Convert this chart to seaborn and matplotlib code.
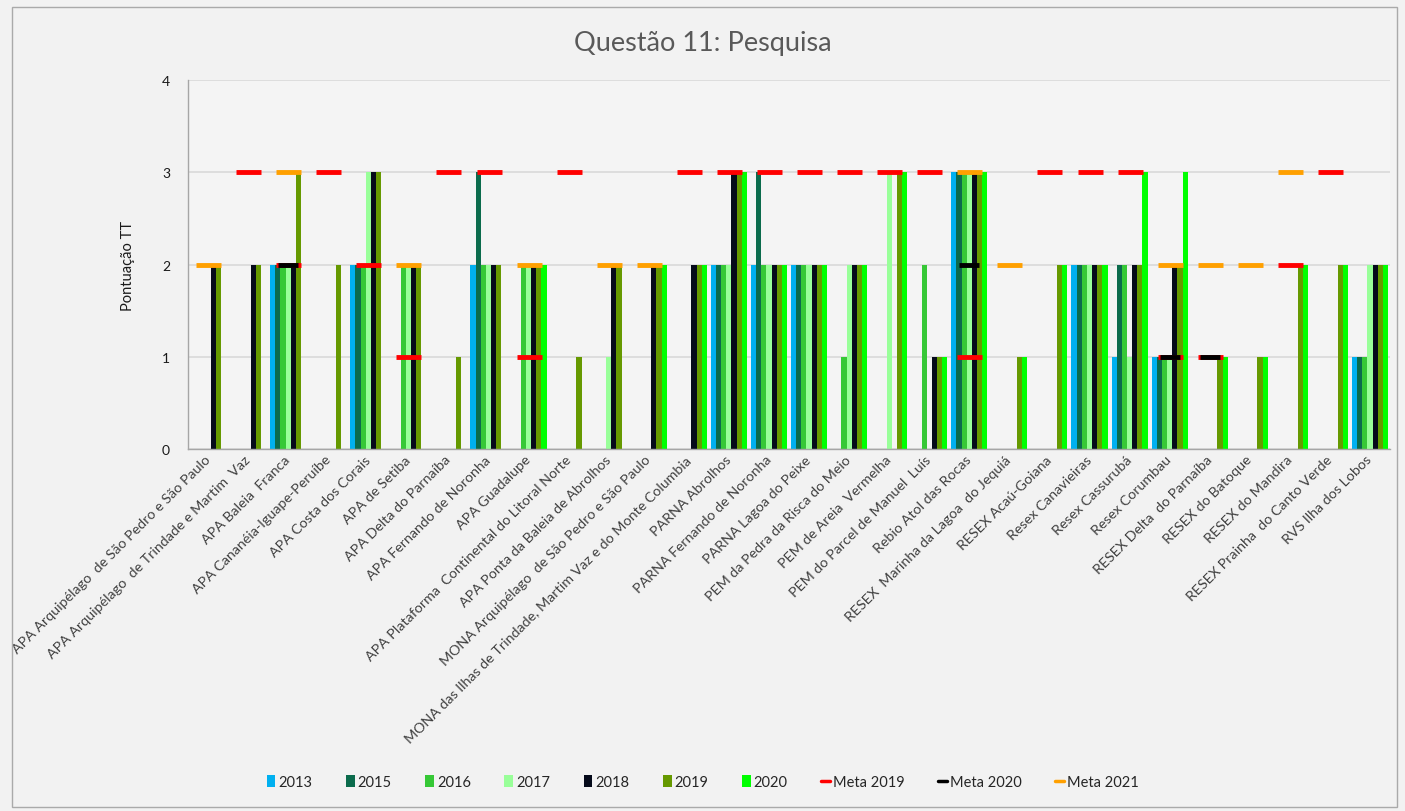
import numpy as np
import pandas as pd
import matplotlib.pyplot as plt
import seaborn as sns
from matplotlib.lines import Line2D
from matplotlib.patches import Rectangle

# Data
categories = [
    "APA Arquipélago  de São Pedro e São Paulo",
    "APA Arquipélago  de Trindade e Martim  Vaz",
    "APA Baleia  Franca",
    "APA Cananéia-Iguape-Peruíbe",
    "APA Costa dos Corais",
    "APA de Setiba",
    "APA Delta do Parnaíba",
    "APA Fernando de Noronha",
    "APA Guadalupe",
    "APA Plataforma  Continental do Litoral Norte",
    "APA Ponta da Baleia de Abrolhos",
    "MONA Arquipélago  de São Pedro e São Paulo",
    "MONA das Ilhas de Trindade, Martim Vaz e do Monte Columbia",
    "PARNA Abrolhos",
    "PARNA Fernando de Noronha",
    "PARNA Lagoa do Peixe",
    "PEM da Pedra da Risca do Meio",
    "PEM de Areia  Vermelha",
    "PEM do Parcel de Manuel  Luís",
    "Rebio Atol das Rocas",
    "RESEX  Marinha da Lagoa  do Jequiá",
    "RESEX Acaú-Goiana",
    "Resex Canavieiras",
    "Resex Cassurubá",
    "Resex Corumbau",
    "RESEX Delta  do Parnaíba",
    "RESEX do Batoque",
    "RESEX do Mandira",
    "RESEX Prainha  do Canto Verde",
    "RVS Ilha dos Lobos",
]
years = ["2013", "2015", "2016", "2017", "2018", "2019", "2020"]

v2013 = [0, 0, 2, 0, 2, 0, 0, 2, 0, 0, 0, 0, 0, 2, 2, 2, 0, 0, 0, 3, 0, 0, 2, 1, 1, 0, 0, 0, 0, 1]
v2015 = [0, 0, 2, 0, 2, 0, 0, 3, 0, 0, 0, 0, 0, 2, 3, 2, 0, 0, 0, 3, 0, 0, 2, 2, 1, 0, 0, 0, 0, 1]
v2016 = [0, 0, 2, 0, 2, 2, 0, 2, 2, 0, 0, 0, 0, 2, 2, 2, 1, 0, 2, 3, 0, 0, 2, 2, 1, 0, 0, 0, 0, 1]
v2017 = [0, 0, 2, 0, 3, 2, 0, 2, 2, 0, 1, 0, 0, 2, 2, 2, 2, 3, 0, 3, 0, 0, 2, 1, 1, 0, 0, 0, 0, 2]
v2018 = [2, 2, 2, 0, 3, 2, 0, 2, 2, 0, 2, 2, 2, 3, 2, 2, 2, 0, 1, 3, 0, 0, 2, 2, 2, 0, 0, 0, 0, 2]
v2019 = [2, 2, 3, 2, 3, 2, 1, 2, 2, 1, 2, 2, 2, 3, 2, 2, 2, 3, 1, 3, 1, 2, 2, 2, 2, 1, 1, 2, 2, 2]
v2020 = [0, 0, 0, 0, 0, 0, 0, 0, 2, 0, 0, 2, 2, 3, 2, 2, 2, 3, 1, 3, 1, 2, 2, 3, 3, 1, 1, 2, 2, 2]

nan = np.nan
meta_2019 = [nan, 3, 2, 3, 2, 1, 3, 3, 1, 3, nan, nan, 3, 3, 3, 3, 3, 3, 3, 1,
             nan, 3, 3, 3, 1, 1, nan, 2, 3, nan]
meta_2020 = [nan, nan, 2, nan, nan, nan, nan, nan, nan, nan, nan, nan, nan, nan, nan,
             nan, nan, nan, nan, 2, nan, nan, nan, nan, 1, 1, nan, nan, nan, nan]
meta_2021 = [2, nan, 3, nan, nan, 2, nan, nan, 2, nan, 2, 2, nan, nan, nan, nan, nan,
             nan, nan, 3, 2, nan, nan, nan, 2, 2, 2, 3, nan, nan]

bar_colors = ["#00B0F0", "#0B6B4C", "#36C836", "#99FF99", "#050A1A", "#669900", "#00FF00"]

rows = []
for yr, vals in zip(years, [v2013, v2015, v2016, v2017, v2018, v2019, v2020]):
    for cat, v in zip(categories, vals):
        rows.append({"cat": cat, "ano": yr, "score": v})
df = pd.DataFrame(rows)

sns.set_style("white")
plt.rcParams["font.family"] = ["Lato", "DejaVu Sans"]

fig = plt.figure(figsize=(14.05, 8.12), dpi=100, facecolor="#F2F2F2")
ax = fig.add_axes([188 / 1405, 1 - 450 / 812, 1202 / 1405, 369 / 812])
ax.set_facecolor("#F4F4F4")

sns.barplot(data=df, x="cat", y="score", hue="ano", order=categories, hue_order=years,
            palette=bar_colors, width=0.9, linewidth=0, saturation=1, ax=ax)
bar_handles, bar_labels = ax.get_legend_handles_labels()

metas = [("Meta 2019", meta_2019, "#FF0000", 18),
         ("Meta 2020", meta_2020, "#000000", 15),
         ("Meta 2021", meta_2021, "#FFA000", 18)]
for name, vals, col, ms in metas:
    sns.pointplot(x=categories, y=vals, order=categories, color=col, marker="_",
                  markersize=ms, markeredgewidth=3.5, linestyle="none",
                  errorbar=None, ax=ax)

if ax.get_legend() is not None:
    ax.get_legend().remove()

ax.set_ylim(0, 4)
ax.set_yticks([0, 1, 2, 3, 4])
ax.set_xlim(-0.5, len(categories) - 0.5)
ax.yaxis.grid(True, color="#D9D9D9", linewidth=1.2)
ax.set_axisbelow(True)
for s in ["top", "right"]:
    ax.spines[s].set_visible(False)
for s in ["left", "bottom"]:
    ax.spines[s].set_color("#A6A6A6")
    ax.spines[s].set_linewidth(1)

ax.tick_params(axis="y", length=0, pad=13, labelsize=10, labelcolor="#1a1a1a")
ax.tick_params(axis="x", length=0, pad=6)
ax.set_xticks(range(len(categories)))
ax.set_xticklabels(categories, rotation=45, ha="right", va="center",
                   rotation_mode="anchor", fontsize=10.3, color="#404040")
ax.set_xlabel("")
ax.set_ylabel("Pontuação TT", fontsize=10.5, color="#1a1a1a")
ax.yaxis.set_label_coords(-0.044, 0.5)

fig.text(0.5, 1 - 44 / 812, "Questão 11: Pesquisa", ha="center", va="center",
         fontsize=19.5, color="#595959")

meta_handles = [Line2D([], [], color=c, linewidth=2.5) for _, _, c, _ in metas]
meta_labels = [n for n, _, _, _ in metas]
fig.legend(bar_handles + meta_handles, bar_labels + meta_labels, loc="center",
           bbox_to_anchor=(0.5, 1 - 783 / 812), ncol=10, frameon=False, fontsize=10.5,
           handlelength=0.6, handleheight=0.9, handletextpad=0.2, columnspacing=2.3)

fig.patches.append(Rectangle((12 / 1405, 4 / 812), 1385 / 1405, 800 / 812,
                             transform=fig.transFigure, fill=False,
                             edgecolor="#AAAAAA", linewidth=1))

fig.savefig("out.png", dpi=100, facecolor=fig.get_facecolor())
